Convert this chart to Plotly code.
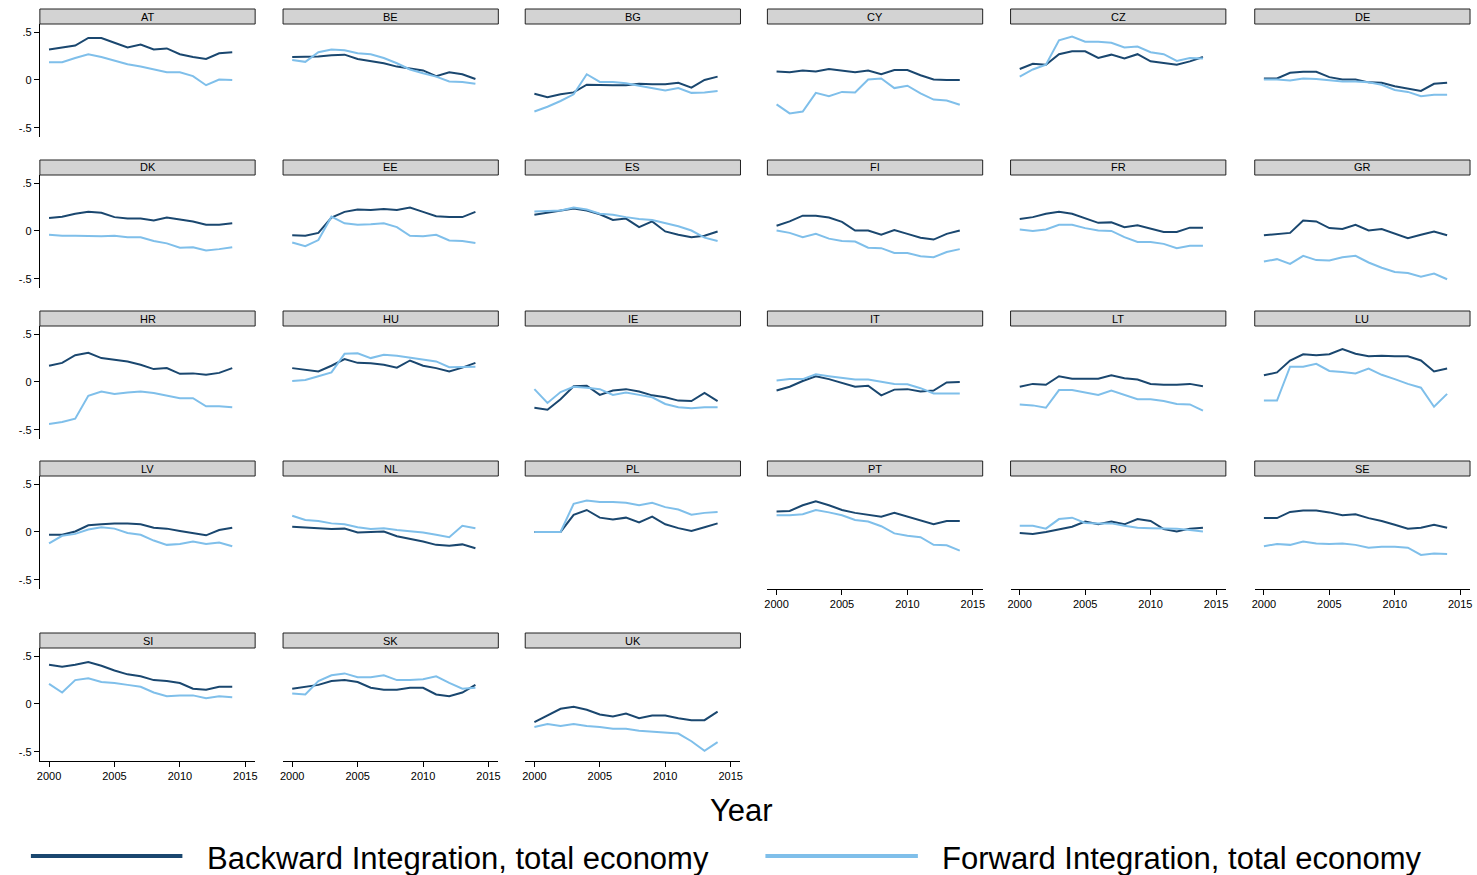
import plotly.graph_objects as go

years = list(range(2000, 2015))

countries = ["AT", "BE", "BG", "CY", "CZ", "DE",
             "DK", "EE", "ES", "FI", "FR", "GR",
             "HR", "HU", "IE", "IT", "LT", "LU",
             "LV", "NL", "PL", "PT", "RO", "SE",
             "SI", "SK", "UK"]

backward = {
    "AT": [0.32, 0.34, 0.36, 0.44, 0.44, 0.39, 0.34, 0.37, 0.32, 0.33, 0.27, 0.24, 0.22, 0.28, 0.29],
    "BE": [0.24, 0.24, 0.245, 0.26, 0.265, 0.22, 0.20, 0.175, 0.14, 0.12, 0.10, 0.04, 0.08, 0.06, 0.01],
    "BG": [-0.145, -0.18, -0.15, -0.13, -0.05, -0.055, -0.055, -0.055, -0.04, -0.045, -0.045, -0.03, -0.08, 0.0, 0.035],
    "CY": [0.09, 0.08, 0.10, 0.09, 0.115, 0.10, 0.08, 0.10, 0.06, 0.105, 0.105, 0.05, 0.005, 0.0, 0.0],
    "CZ": [0.115, 0.17, 0.16, 0.27, 0.30, 0.30, 0.23, 0.265, 0.225, 0.27, 0.195, 0.18, 0.16, 0.195, 0.24],
    "DE": [0.015, 0.015, 0.075, 0.085, 0.085, 0.03, 0.005, 0.005, -0.025, -0.03, -0.065, -0.09, -0.115, -0.04, -0.03],
    "DK": [0.135, 0.15, 0.18, 0.20, 0.19, 0.145, 0.13, 0.13, 0.11, 0.14, 0.12, 0.10, 0.065, 0.065, 0.08],
    "EE": [-0.045, -0.05, -0.02, 0.14, 0.20, 0.225, 0.22, 0.23, 0.22, 0.245, 0.20, 0.155, 0.145, 0.145, 0.20],
    "ES": [0.17, 0.19, 0.21, 0.235, 0.215, 0.175, 0.115, 0.13, 0.04, 0.10, -0.005, -0.04, -0.065, -0.05, -0.005],
    "FI": [0.055, 0.10, 0.16, 0.16, 0.14, 0.095, 0.005, 0.005, -0.04, 0.01, -0.03, -0.07, -0.09, -0.03, 0.005],
    "FR": [0.125, 0.145, 0.18, 0.20, 0.18, 0.13, 0.085, 0.09, 0.04, 0.06, 0.025, -0.01, -0.01, 0.035, 0.035],
    "GR": [-0.045, -0.035, -0.02, 0.11, 0.10, 0.03, 0.02, 0.065, 0.005, 0.02, -0.03, -0.075, -0.04, -0.005, -0.045],
    "HR": [0.17, 0.20, 0.28, 0.305, 0.25, 0.235, 0.215, 0.18, 0.135, 0.145, 0.085, 0.09, 0.075, 0.095, 0.145],
    "HU": [0.145, 0.125, 0.11, 0.17, 0.24, 0.20, 0.195, 0.18, 0.15, 0.225, 0.17, 0.145, 0.11, 0.15, 0.20],
    "IE": [-0.27, -0.29, -0.18, -0.045, -0.04, -0.135, -0.09, -0.075, -0.10, -0.14, -0.16, -0.195, -0.20, -0.115, -0.20],
    "IT": [-0.09, -0.05, 0.01, 0.06, 0.03, -0.01, -0.05, -0.04, -0.14, -0.08, -0.075, -0.10, -0.09, -0.005, 0.0],
    "LT": [-0.05, -0.02, -0.03, 0.06, 0.035, 0.035, 0.035, 0.07, 0.04, 0.025, -0.02, -0.03, -0.03, -0.02, -0.045],
    "LU": [0.07, 0.10, 0.225, 0.29, 0.28, 0.29, 0.345, 0.295, 0.27, 0.275, 0.27, 0.27, 0.225, 0.11, 0.14],
    "LV": [-0.03, -0.03, 0.005, 0.07, 0.08, 0.09, 0.09, 0.08, 0.045, 0.035, 0.01, -0.015, -0.035, 0.02, 0.045],
    "NL": [0.055, 0.045, 0.04, 0.03, 0.035, -0.005, 0.0, 0.005, -0.045, -0.07, -0.10, -0.135, -0.145, -0.13, -0.17],
    "PL": [0.0, 0.0, 0.0, 0.18, 0.23, 0.15, 0.13, 0.15, 0.10, 0.16, 0.08, 0.04, 0.01, 0.05, 0.09],
    "PT": [0.215, 0.22, 0.28, 0.32, 0.28, 0.23, 0.20, 0.18, 0.16, 0.20, 0.16, 0.12, 0.08, 0.115, 0.115],
    "RO": [-0.01, -0.02, 0.0, 0.03, 0.055, 0.11, 0.08, 0.11, 0.08, 0.135, 0.115, 0.03, 0.005, 0.035, 0.045],
    "SE": [0.145, 0.145, 0.21, 0.225, 0.225, 0.205, 0.175, 0.185, 0.145, 0.115, 0.075, 0.035, 0.045, 0.075, 0.045],
    "SI": [0.41, 0.39, 0.41, 0.44, 0.40, 0.35, 0.31, 0.29, 0.25, 0.24, 0.22, 0.16, 0.15, 0.18, 0.18],
    "SK": [0.16, 0.18, 0.20, 0.24, 0.25, 0.23, 0.17, 0.15, 0.15, 0.17, 0.17, 0.10, 0.08, 0.12, 0.20],
    "UK": [-0.19, -0.12, -0.05, -0.03, -0.06, -0.11, -0.13, -0.10, -0.15, -0.12, -0.12, -0.15, -0.17, -0.17, -0.08],
}

forward = {
    "AT": [0.185, 0.185, 0.23, 0.27, 0.24, 0.20, 0.165, 0.14, 0.11, 0.08, 0.08, 0.04, -0.055, 0.005, 0.0],
    "BE": [0.21, 0.19, 0.29, 0.32, 0.31, 0.28, 0.27, 0.23, 0.175, 0.11, 0.07, 0.035, -0.015, -0.02, -0.04],
    "BG": [-0.33, -0.28, -0.22, -0.15, 0.06, -0.02, -0.02, -0.035, -0.06, -0.085, -0.11, -0.085, -0.135, -0.13, -0.115],
    "CY": [-0.255, -0.35, -0.33, -0.135, -0.17, -0.125, -0.13, 0.005, 0.015, -0.085, -0.06, -0.14, -0.205, -0.215, -0.26],
    "CZ": [0.035, 0.11, 0.16, 0.415, 0.455, 0.40, 0.40, 0.39, 0.34, 0.35, 0.29, 0.27, 0.20, 0.23, 0.225],
    "DE": [0.005, 0.005, -0.005, 0.015, 0.01, 0.0, -0.015, -0.015, -0.025, -0.05, -0.105, -0.125, -0.17, -0.155, -0.155],
    "DK": [-0.04, -0.05, -0.05, -0.055, -0.055, -0.05, -0.065, -0.065, -0.105, -0.13, -0.175, -0.17, -0.205, -0.19, -0.17],
    "EE": [-0.12, -0.16, -0.095, 0.15, 0.08, 0.065, 0.07, 0.08, 0.04, -0.05, -0.055, -0.04, -0.10, -0.105, -0.125],
    "ES": [0.205, 0.21, 0.215, 0.245, 0.225, 0.18, 0.17, 0.145, 0.125, 0.115, 0.08, 0.05, 0.005, -0.07, -0.105],
    "FI": [0.005, -0.02, -0.065, -0.03, -0.08, -0.105, -0.11, -0.175, -0.18, -0.23, -0.23, -0.265, -0.275, -0.22, -0.19],
    "FR": [0.015, 0.0, 0.015, 0.065, 0.065, 0.03, 0.005, 0.0, -0.065, -0.115, -0.115, -0.135, -0.18, -0.155, -0.155],
    "GR": [-0.32, -0.295, -0.345, -0.26, -0.305, -0.31, -0.275, -0.26, -0.33, -0.385, -0.43, -0.44, -0.48, -0.445, -0.505],
    "HR": [-0.44, -0.42, -0.385, -0.145, -0.10, -0.125, -0.11, -0.10, -0.115, -0.14, -0.17, -0.17, -0.255, -0.255, -0.265],
    "HU": [0.01, 0.02, 0.06, 0.10, 0.295, 0.30, 0.25, 0.285, 0.275, 0.255, 0.235, 0.215, 0.155, 0.16, 0.16],
    "IE": [-0.075, -0.22, -0.105, -0.05, -0.06, -0.075, -0.135, -0.11, -0.135, -0.16, -0.23, -0.265, -0.275, -0.265, -0.265],
    "IT": [0.015, 0.03, 0.03, 0.08, 0.06, 0.04, 0.025, 0.025, 0.005, -0.02, -0.025, -0.065, -0.12, -0.12, -0.12],
    "LT": [-0.235, -0.245, -0.27, -0.085, -0.085, -0.11, -0.135, -0.09, -0.135, -0.18, -0.18, -0.20, -0.23, -0.235, -0.30],
    "LU": [-0.195, -0.195, 0.16, 0.16, 0.19, 0.115, 0.105, 0.09, 0.14, 0.075, 0.03, -0.02, -0.06, -0.26, -0.125],
    "LV": [-0.12, -0.04, -0.02, 0.025, 0.05, 0.035, -0.01, -0.03, -0.09, -0.135, -0.125, -0.10, -0.125, -0.11, -0.15],
    "NL": [0.17, 0.125, 0.115, 0.09, 0.08, 0.05, 0.03, 0.04, 0.02, 0.005, -0.005, -0.03, -0.055, 0.065, 0.04],
    "PL": [0.0, 0.0, 0.0, 0.295, 0.33, 0.315, 0.315, 0.305, 0.28, 0.305, 0.26, 0.235, 0.18, 0.20, 0.21],
    "PT": [0.175, 0.175, 0.185, 0.23, 0.205, 0.175, 0.125, 0.11, 0.06, -0.015, -0.04, -0.055, -0.135, -0.14, -0.195],
    "RO": [0.065, 0.065, 0.035, 0.135, 0.15, 0.095, 0.09, 0.09, 0.065, 0.045, 0.04, 0.035, 0.035, 0.02, 0.005],
    "SE": [-0.15, -0.125, -0.135, -0.10, -0.12, -0.125, -0.12, -0.135, -0.165, -0.155, -0.155, -0.165, -0.24, -0.225, -0.23],
    "SI": [0.21, 0.12, 0.25, 0.27, 0.23, 0.22, 0.20, 0.18, 0.12, 0.08, 0.09, 0.09, 0.06, 0.08, 0.07],
    "SK": [0.11, 0.10, 0.24, 0.30, 0.32, 0.28, 0.28, 0.30, 0.25, 0.25, 0.26, 0.29, 0.22, 0.16, 0.17],
    "UK": [-0.24, -0.21, -0.23, -0.21, -0.23, -0.24, -0.26, -0.26, -0.28, -0.29, -0.30, -0.31, -0.39, -0.49, -0.40],
}

x_ticks = [2000, 2005, 2010, 2015]
y_tickvals = [-0.5, 0, 0.5]
y_ticktext = ["-.5", "0", ".5"]
series_names = ["Backward Integration, total economy", "Forward Integration, total economy"]

DARK = "#1a476f"
LIGHT = "#7fbfea"
FONT = "Liberation Sans, Arial, sans-serif"

W, H = 1477, 875
col_left = [37, 281, 524, 767, 1011, 1256]
panel_w = 216
row_header_top = [9, 160, 311, 461, 633]
header_h = 15
plot_h = 113

fig = go.Figure()
layout = dict(
    width=W, height=H,
    margin=dict(l=0, r=0, t=0, b=0),
    paper_bgcolor="white", plot_bgcolor="white",
    showlegend=False,
    font=dict(family=FONT, color="black"),
)
shapes = []
annotations = []

def px_x(p):
    return p / W

def px_y(p):
    return 1 - p / H

n = len(countries)
for i, c in enumerate(countries):
    r, col = divmod(i, 6)
    left = col_left[col]
    htop = row_header_top[r]
    ptop = htop + header_h
    pbot = ptop + plot_h
    idx = "" if i == 0 else str(i + 1)
    is_bottom = (i + 6) >= n
    is_left = col == 0

    fig.add_trace(go.Scatter(x=years, y=backward[c], mode="lines",
                             line=dict(color=DARK, width=2),
                             name=series_names[0],
                             xaxis="x" + idx, yaxis="y" + idx))
    fig.add_trace(go.Scatter(x=years, y=forward[c], mode="lines",
                             line=dict(color=LIGHT, width=2),
                             name=series_names[1],
                             xaxis="x" + idx, yaxis="y" + idx))

    layout["xaxis" + idx] = dict(
        domain=[px_x(left), px_x(left + panel_w)],
        anchor="y" + idx,
        range=[1999.3, 2015.75],
        showgrid=False, zeroline=False,
        showline=is_bottom, linecolor="black", linewidth=1,
        tickvals=x_ticks if is_bottom else [],
        ticks="outside" if is_bottom else "",
        ticklen=5, tickcolor="black",
        showticklabels=is_bottom,
        tickfont=dict(size=11, family=FONT, color="black"),
        fixedrange=True,
    )
    layout["yaxis" + idx] = dict(
        domain=[px_y(pbot), px_y(ptop)],
        anchor="x" + idx,
        range=[-0.597, 0.586],
        showgrid=False, zeroline=False,
        showline=is_left, linecolor="black", linewidth=1,
        tickvals=y_tickvals if is_left else [],
        ticktext=y_ticktext,
        ticks="outside" if is_left else "",
        ticklen=5, tickcolor="black",
        showticklabels=is_left,
        tickfont=dict(size=11, family=FONT, color="black"),
        fixedrange=True,
    )
    shapes.append(dict(type="rect", xref="paper", yref="paper",
                       x0=px_x(left), x1=px_x(left + panel_w),
                       y0=px_y(htop + header_h), y1=px_y(htop),
                       fillcolor="#d3d3d3", line=dict(color="#222222", width=1),
                       layer="above"))
    annotations.append(dict(text=c, xref="paper", yref="paper",
                            x=px_x(left + panel_w / 2), y=px_y(htop + header_h / 2),
                            xanchor="center", yanchor="middle", showarrow=False,
                            font=dict(size=11, family=FONT, color="black")))

# x-axis title
annotations.append(dict(text="Year", xref="paper", yref="paper",
                        x=px_x(741), y=px_y(810), xanchor="center", yanchor="middle",
                        showarrow=False, font=dict(size=31, family=FONT, color="black")))

# legend keys
legend_items = [(28, 180, 203, DARK, series_names[0]),
                (765, 918, 940, LIGHT, series_names[1])]
for x0, x1, tx, colr, name in legend_items:
    shapes.append(dict(type="line", xref="paper", yref="paper",
                       x0=px_x(x0), x1=px_x(x1), y0=px_y(856), y1=px_y(856),
                       line=dict(color=colr, width=4)))
    annotations.append(dict(text=name, xref="paper", yref="paper",
                            x=px_x(tx), y=px_y(858), xanchor="left", yanchor="middle",
                            showarrow=False, font=dict(size=31, family=FONT, color="black")))

layout["shapes"] = shapes
layout["annotations"] = annotations
fig.update_layout(**layout)
fig.write_html("out.html",
               config={"displayModeBar": False},
               post_script="document.body.style.margin='0';document.body.style.overflow='hidden';")
